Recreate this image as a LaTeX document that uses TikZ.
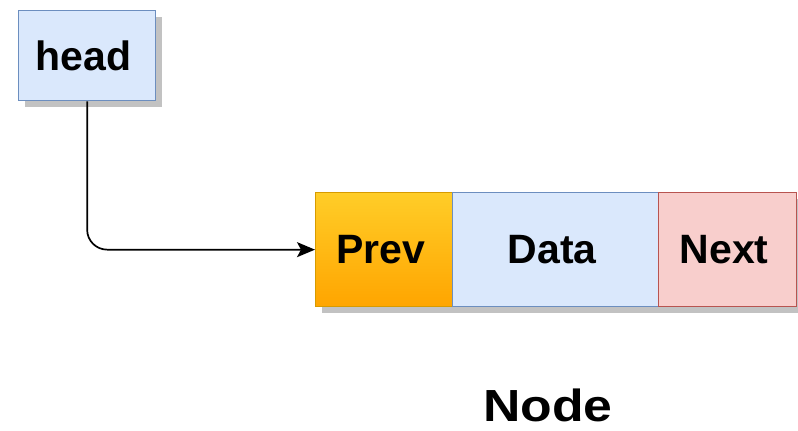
\documentclass[tikz,border=0pt]{standalone}
\usepackage{fontspec}
\setmainfont{Liberation Sans}
\usetikzlibrary{arrows.meta,shadows}
\definecolor{blueFill}{HTML}{DAE8FC}
\definecolor{blueLine}{HTML}{6C8EBF}
\definecolor{redFill}{HTML}{F8CECC}
\definecolor{redLine}{HTML}{B85450}
\definecolor{orangeTop}{HTML}{FFCD28}
\definecolor{orangeBot}{HTML}{FFA500}
\definecolor{orangeLine}{HTML}{D79B00}
\definecolor{shadowGray}{HTML}{9A9A9A}
\tikzset{
  box/.style={draw, line width=1.3pt, inner sep=0pt, anchor=north west,
    font=\fontsize{41}{48}\selectfont\bfseries,
    execute at begin node=\hspace*{-7pt},
    drop shadow={shadow xshift=6pt, shadow yshift=-6pt, fill=shadowGray, opacity=0.6}},
  bluebox/.style={box, fill=blueFill, draw=blueLine},
  redbox/.style={box, fill=redFill, draw=redLine},
  orangebox/.style={box, draw=orangeLine, top color=orangeTop, bottom color=orangeBot},
  caption/.style={font=\fontsize{45}{54}\selectfont\bfseries, inner sep=0pt,
    text depth=0pt, anchor=base, xscale=1.15, transform shape},
  link/.style={line width=1.7pt, rounded corners=20pt, -{Stealth[length=18pt,width=15pt,inset=4pt]}}
}
\begin{document}
\begin{tikzpicture}[x=1pt,y=-1pt]
  \useasboundingbox (0,0) rectangle (798,431);
  % head pointer
  \node[bluebox, minimum width=137pt, minimum height=90pt] (head) at (18,10) {head};
  % one list node: three fields side by side
  \node[orangebox, minimum width=137pt, minimum height=114pt] (prev) at (315,192) {Prev};
  \node[bluebox, minimum width=206pt, minimum height=114pt] (data) at (452,192) {Data};
  \node[redbox, minimum width=138pt, minimum height=114pt] (next) at (658,192) {Next};
  % caption under the node
  \node[caption] (nodecaption) at (548,421) {Node};
  % head points to the node
  \draw[link] (head.south) |- (prev.west);
\end{tikzpicture}
\end{document}
